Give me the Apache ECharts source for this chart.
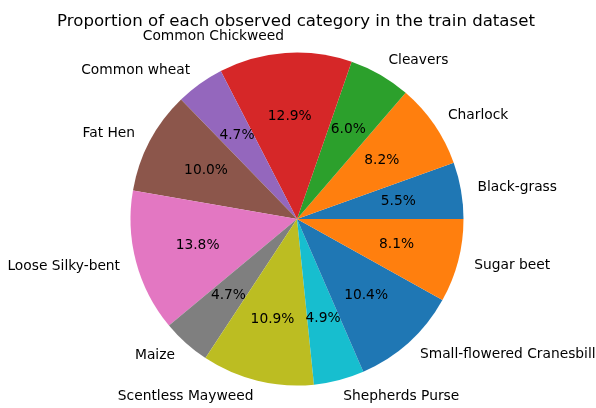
<!DOCTYPE html>
<html>
<head>
<meta charset="utf-8">
<script src="https://cdn.jsdelivr.net/npm/echarts@6/dist/echarts.min.js"></script>
<style>
  html, body { margin: 0; padding: 0; background: #fff; }
  #chart { width: 596px; height: 408px; }
</style>
</head>
<body>
<div id="chart"></div>
<script>
// Share of each plant category in the training set (percent)
const categories = [
  'Black-grass', 'Charlock', 'Cleavers', 'Common Chickweed', 'Common wheat',
  'Fat Hen', 'Loose Silky-bent', 'Maize', 'Scentless Mayweed', 'Shepherds Purse',
  'Small-flowered Cranesbill', 'Sugar beet'
];
const shares = [5.5, 8.2, 6.0, 12.9, 4.7, 10.0, 13.8, 4.7, 10.9, 4.9, 10.4, 8.1];
const palette = ['#1f77b4', '#ff7f0e', '#2ca02c', '#d62728', '#9467bd', '#8c564b',
  '#e377c2', '#7f7f7f', '#bcbd22', '#17becf'];

const FONT = 'DejaVu Sans';
const CX = 297, CY = 219, R = 166.5;

const data = categories.map((name, i) => ({
  name: name,
  value: shares[i],
  itemStyle: { color: palette[i % palette.length] }
}));

const chart = echarts.init(document.getElementById('chart'), null, { renderer: 'canvas' });

chart.setOption({
  backgroundColor: '#ffffff',
  animation: false,
  title: {
    text: 'Proportion of each observed category in the train dataset',
    left: 291,
    textAlign: 'center',
    top: 8,
    textStyle: { fontFamily: FONT, fontSize: 16.6, fontWeight: 'normal', color: '#000' }
  },
  series: [
    {
      // wedges with category names just outside the rim
      type: 'pie',
      center: [CX, CY],
      radius: [0, R],
      startAngle: 0,
      clockwise: false,
      avoidLabelOverlap: false,
      silent: true,
      data: data,
      label: {
        show: true,
        position: 'outside',
        distanceToLabelLine: 0,
        width: 220,
        overflow: 'none',
        padding: [2, 0, 0, 0],
        fontFamily: FONT,
        fontSize: 13.8,
        color: '#000',
        formatter: '{b}'
      },
      labelLine: { show: false, length: R * 0.1, length2: 0 },
      itemStyle: { borderWidth: 0 }
    },
    {
      // invisible ring used only to place the percentage text at 0.6 R
      type: 'pie',
      center: [CX, CY],
      radius: [0, R * 1.2],
      startAngle: 0,
      clockwise: false,
      avoidLabelOverlap: false,
      silent: true,
      data: categories.map((name, i) => ({ name: name, value: shares[i] })),
      itemStyle: { color: 'rgba(0,0,0,0)', borderWidth: 0 },
      label: {
        show: true,
        position: 'inside',
        padding: [2, 0, 0, 0],
        fontFamily: FONT,
        fontSize: 13.8,
        color: '#000',
        formatter: p => p.value.toFixed(1) + '%'
      },
      labelLine: { show: false }
    }
  ]
});
</script>
</body>
</html>
